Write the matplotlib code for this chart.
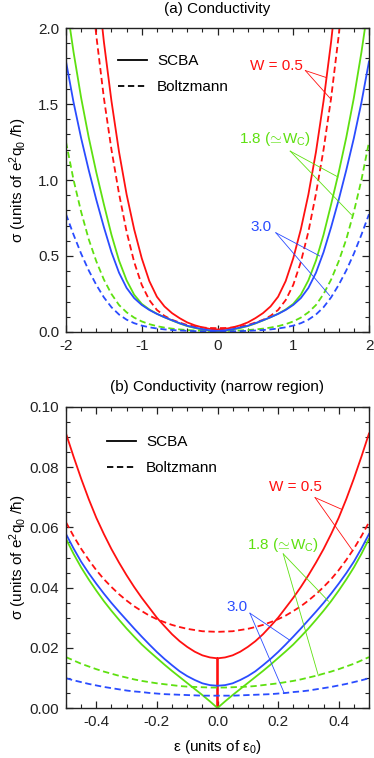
import numpy as np
import matplotlib
matplotlib.use("Agg")
import matplotlib.pyplot as plt
from matplotlib.lines import Line2D
from matplotlib.ticker import MultipleLocator, FormatStrFormatter

plt.rcParams["font.family"] = ["Liberation Sans", "DejaVu Sans"]
plt.rcParams["mathtext.fontset"] = "custom"
plt.rcParams["mathtext.rm"] = "Liberation Sans"
plt.rcParams["mathtext.it"] = "Liberation Sans:italic"
plt.rcParams["axes.unicode_minus"] = False

# ---- data: panel (a), energy grid -2..2 ----
eps_a = np.linspace(-2.0, 2.0, 41)
red_scba_a = [5.0, 4.2, 3.5, 2.9, 2.37, 1.91, 1.52, 1.185, 0.905, 0.675, 0.485, 0.335, 0.232, 0.168, 0.124, 0.091, 0.0632, 0.0441, 0.0302, 0.0203,
              0.0165,
              0.0203, 0.0302, 0.0441, 0.0632, 0.091, 0.124, 0.168, 0.232, 0.335, 0.485, 0.675, 0.905, 1.185, 1.52, 1.91, 2.37, 2.9, 3.5, 4.2, 5.0]
red_boltz_a = [4.3, 3.6, 3.0, 2.44, 1.95, 1.54, 1.2, 0.91, 0.66, 0.46, 0.31, 0.21, 0.145, 0.106, 0.08, 0.062, 0.0458, 0.0357, 0.0295, 0.0263,
               0.0253,
               0.0263, 0.0295, 0.0357, 0.0458, 0.062, 0.08, 0.106, 0.145, 0.21, 0.31, 0.46, 0.66, 0.91, 1.2, 1.54, 1.95, 2.44, 3.0, 3.6, 4.3]
green_scba_a = [2.18, 1.84, 1.54, 1.28, 1.05, 0.84, 0.64, 0.47, 0.34, 0.245, 0.185, 0.148, 0.12, 0.097, 0.076, 0.056, 0.039, 0.0265, 0.0165, 0.0083,
                0.0,
                0.0083, 0.0165, 0.0265, 0.039, 0.056, 0.076, 0.097, 0.12, 0.148, 0.185, 0.245, 0.34, 0.47, 0.64, 0.84, 1.05, 1.28, 1.54, 1.84, 2.18]
blue_scba_a = [1.78, 1.51, 1.275, 1.065, 0.87, 0.69, 0.525, 0.39, 0.29, 0.223, 0.178, 0.145, 0.119, 0.097, 0.077, 0.058, 0.0413, 0.0292, 0.0186, 0.0106,
               0.0074,
               0.0106, 0.0186, 0.0292, 0.0413, 0.058, 0.077, 0.097, 0.119, 0.145, 0.178, 0.223, 0.29, 0.39, 0.525, 0.69, 0.87, 1.065, 1.275, 1.51, 1.78]
green_boltz_a = [1.25, 1.0, 0.79, 0.61, 0.465, 0.345, 0.25, 0.1775, 0.1295, 0.0945, 0.0695, 0.0515, 0.0385, 0.029, 0.022, 0.0169, 0.0129, 0.0101, 0.0082, 0.0071,
                 0.0068,
                 0.0071, 0.0082, 0.0101, 0.0129, 0.0169, 0.022, 0.029, 0.0385, 0.0515, 0.0695, 0.0945, 0.1295, 0.1775, 0.25, 0.345, 0.465, 0.61, 0.79, 1.0, 1.25]
blue_boltz_a = [0.775, 0.64, 0.515, 0.405, 0.31, 0.228, 0.163, 0.115, 0.081, 0.058, 0.042, 0.031, 0.023, 0.017, 0.013, 0.0099, 0.0075, 0.0058, 0.0048, 0.0043,
                0.0041,
                0.0043, 0.0048, 0.0058, 0.0075, 0.0099, 0.013, 0.017, 0.023, 0.031, 0.042, 0.058, 0.081, 0.115, 0.163, 0.228, 0.31, 0.405, 0.515, 0.64, 0.775]

# ---- data: panel (b), energy grid -0.5..0.5 ----
eps_b = np.linspace(-0.5, 0.5, 41)
eps_b_red = np.insert(eps_b, 20, [0.0, 0.0])  # SCBA W=0.5 drops to zero exactly at eps=0
red_scba_b = [0.0912, 0.0835, 0.0762, 0.0694, 0.0632, 0.0578, 0.0528, 0.0483, 0.0441, 0.0402, 0.0366, 0.0333, 0.0300, 0.0272, 0.0245, 0.0222, 0.0203, 0.0187, 0.0175, 0.0168,
              0.0165, 0.0, 0.0165,
              0.0168, 0.0175, 0.0187, 0.0203, 0.0222, 0.0245, 0.0272, 0.0300, 0.0333, 0.0366, 0.0402, 0.0441, 0.0483, 0.0528, 0.0578, 0.0632, 0.0694, 0.0762, 0.0835, 0.0912]
red_boltz_b = [0.0617, 0.0571, 0.0529, 0.0492, 0.0458, 0.0428, 0.0402, 0.0378, 0.0357, 0.0338, 0.0322, 0.0307, 0.0295, 0.0285, 0.0276, 0.0269, 0.0263, 0.0259, 0.0255, 0.0254,
               0.0253,
               0.0254, 0.0255, 0.0259, 0.0263, 0.0269, 0.0276, 0.0285, 0.0295, 0.0307, 0.0322, 0.0338, 0.0357, 0.0378, 0.0402, 0.0428, 0.0458, 0.0492, 0.0529, 0.0571, 0.0617]
blue_scba_b = [0.0578, 0.0530, 0.0486, 0.0448, 0.0413, 0.0380, 0.0349, 0.0320, 0.0292, 0.0264, 0.0237, 0.0211, 0.0186, 0.0163, 0.0142, 0.0122, 0.0106, 0.0093, 0.0082, 0.0076,
               0.0074,
               0.0076, 0.0082, 0.0093, 0.0106, 0.0122, 0.0142, 0.0163, 0.0186, 0.0211, 0.0237, 0.0264, 0.0292, 0.0320, 0.0349, 0.0380, 0.0413, 0.0448, 0.0486, 0.0530, 0.0578]
green_scba_b = [0.0562, 0.0512, 0.0467, 0.0427, 0.0390, 0.0355, 0.0323, 0.0293, 0.0264, 0.0237, 0.0211, 0.0188, 0.0166, 0.0144, 0.0123, 0.0103, 0.0083, 0.0063, 0.0043, 0.0022,
                0.0,
                0.0022, 0.0043, 0.0063, 0.0083, 0.0103, 0.0123, 0.0144, 0.0166, 0.0188, 0.0211, 0.0237, 0.0264, 0.0293, 0.0323, 0.0355, 0.0390, 0.0427, 0.0467, 0.0512, 0.0562]
green_boltz_b = [0.0169, 0.0158, 0.0147, 0.0138, 0.0129, 0.0121, 0.0114, 0.0107, 0.0101, 0.0095, 0.0090, 0.0086, 0.0082, 0.0079, 0.0076, 0.0073, 0.0071, 0.0070, 0.0069, 0.0068,
                 0.0068,
                 0.0068, 0.0069, 0.0070, 0.0071, 0.0073, 0.0076, 0.0079, 0.0082, 0.0086, 0.0090, 0.0095, 0.0101, 0.0107, 0.0114, 0.0121, 0.0129, 0.0138, 0.0147, 0.0158, 0.0169]
blue_boltz_b = [0.0099, 0.0092, 0.0086, 0.0080, 0.0075, 0.0070, 0.0066, 0.0062, 0.0058, 0.0055, 0.0053, 0.0050, 0.0048, 0.0046, 0.0045, 0.0044, 0.0043, 0.0042, 0.0041, 0.0041,
                0.0041,
                0.0041, 0.0041, 0.0042, 0.0043, 0.0044, 0.0045, 0.0046, 0.0048, 0.0050, 0.0053, 0.0055, 0.0058, 0.0062, 0.0066, 0.0070, 0.0075, 0.0080, 0.0086, 0.0092, 0.0099]

RED = "#ff1010"
GREEN = "#5ee010"
BLUE = "#2a4cff"
LW = 1.3
DASH = (3.5, 2.0)
FS = 11

YLABEL = r"σ (units of e$^{2}$q$_{0}$ /ħ)"
WC_LABEL = r"1.8 ($\!{\simeq}\!$W$_{\rm C}$)"


def style_axes(ax):
    for sp in ax.spines.values():
        sp.set_linewidth(1.0)
        sp.set_color("#222222")
    ax.tick_params(which="both", direction="in", top=True, right=True,
                   labelsize=FS, colors="#222222")
    ax.tick_params(which="major", length=5, width=0.9, pad=5)
    ax.tick_params(which="minor", length=3, width=0.8)


def curves(ax, x, red_s, red_b, green_s, green_b, blue_s, blue_b, x_red=None):
    xr = x if x_red is None else x_red
    ax.plot(xr, red_s, color=RED, lw=LW)
    ax.plot(x, red_b, color=RED, lw=LW, dashes=DASH)
    ax.plot(x, green_s, color=GREEN, lw=LW)
    ax.plot(x, green_b, color=GREEN, lw=LW, dashes=DASH)
    ax.plot(x, blue_s, color=BLUE, lw=LW)
    ax.plot(x, blue_b, color=BLUE, lw=LW, dashes=DASH)


def label(ax, text, color, xy_text, anchor, targets):
    ax.text(*xy_text, text, color=color, fontsize=FS, ha="center", va="center")
    for t in targets:
        ax.plot([anchor[0], t[0]], [anchor[1], t[1]], color=color, lw=0.6)


def legend(ax, anchor):
    handles = [Line2D([], [], color="black", lw=LW),
               Line2D([], [], color="black", lw=LW, dashes=DASH)]
    ax.legend(handles, ["SCBA", "Boltzmann"], loc="upper left", bbox_to_anchor=anchor,
              frameon=False, fontsize=FS, handlelength=1.9, handletextpad=0.65,
              labelspacing=0.8, borderaxespad=0)


fig = plt.figure(figsize=(3.74, 7.58), dpi=100)
ax_a = fig.add_axes([66 / 374, 1 - 332 / 758, 303 / 374, 304 / 758])
ax_b = fig.add_axes([66 / 374, 1 - 708 / 758, 303 / 374, 301 / 758])

# panel (a)
curves(ax_a, eps_a, red_scba_a, red_boltz_a, green_scba_a, green_boltz_a, blue_scba_a, blue_boltz_a)
ax_a.set_xlim(-2, 2)
ax_a.set_ylim(0, 2.0)
ax_a.xaxis.set_major_locator(MultipleLocator(1))
ax_a.xaxis.set_minor_locator(MultipleLocator(0.2))
ax_a.yaxis.set_major_locator(MultipleLocator(0.5))
ax_a.yaxis.set_minor_locator(MultipleLocator(0.1))
ax_a.xaxis.set_major_formatter(FormatStrFormatter("%d"))
ax_a.yaxis.set_major_formatter(FormatStrFormatter("%.1f"))
style_axes(ax_a)
ax_a.set_title("(a) Conductivity", fontsize=FS, pad=11)
ax_a.set_ylabel(YLABEL, fontsize=FS)
ax_a.yaxis.set_label_coords(-0.122, 0.5)
legend(ax_a, (0.152, 0.935))
label(ax_a, "W = 0.5", RED, (0.78, 1.75), (1.16, 1.72), [(1.43, 1.675), (1.50, 1.53)])
label(ax_a, WC_LABEL, GREEN, (0.76, 1.27), (0.96, 1.19), [(1.59, 1.02), (1.77, 0.77)])
label(ax_a, "3.0", BLUE, (0.58, 0.69), (0.77, 0.653), [(1.35, 0.50), (1.48, 0.24)])

# panel (b)
curves(ax_b, eps_b, red_scba_b, red_boltz_b, green_scba_b, green_boltz_b, blue_scba_b, blue_boltz_b,
       x_red=eps_b_red)
ax_b.set_xlim(-0.5, 0.5)
ax_b.set_ylim(0, 0.10)
ax_b.xaxis.set_major_locator(MultipleLocator(0.2))
ax_b.xaxis.set_minor_locator(MultipleLocator(0.05))
ax_b.yaxis.set_major_locator(MultipleLocator(0.02))
ax_b.yaxis.set_minor_locator(MultipleLocator(0.005))
ax_b.xaxis.set_major_formatter(FormatStrFormatter("%.1f"))
ax_b.yaxis.set_major_formatter(FormatStrFormatter("%.2f"))
style_axes(ax_b)
ax_b.set_title("(b) Conductivity (narrow region)", fontsize=FS, pad=11.5)
ax_b.set_ylabel(YLABEL, fontsize=FS)
ax_b.yaxis.set_label_coords(-0.122, 0.5)
ax_b.set_xlabel("ε (units of ε$_{0}$)", fontsize=FS)
ax_b.xaxis.set_label_coords(0.5, -0.1)
legend(ax_b, (0.115, 0.927))
label(ax_b, "W = 0.5", RED, (0.257, 0.0733), (0.322, 0.0699), [(0.41, 0.066), (0.443, 0.0527)])
label(ax_b, WC_LABEL, GREEN, (0.215, 0.0542), (0.217, 0.0512), [(0.366, 0.0355), (0.333, 0.0107)])
label(ax_b, "3.0", BLUE, (0.063, 0.0337), (0.107, 0.0315), [(0.239, 0.0225), (0.22, 0.0050)])

fig.savefig("out.png", dpi=100)
